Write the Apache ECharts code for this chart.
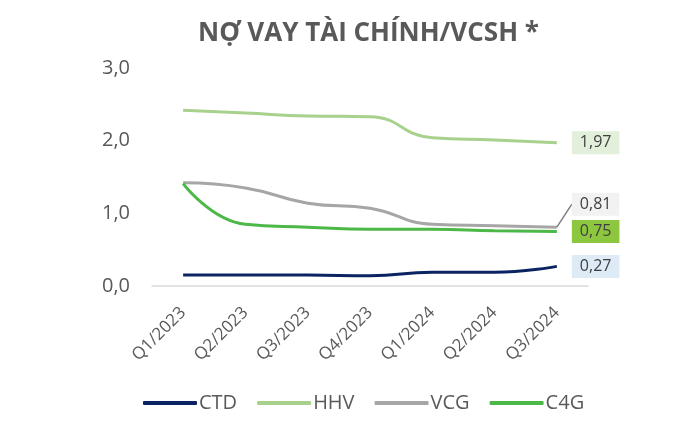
<!doctype html>
<html lang="vi">
<head>
<meta charset="UTF-8"/>
<title>Nợ vay tài chính/VCSH</title>
<script src="https://cdn.jsdelivr.net/npm/echarts@6/dist/echarts.min.js"></script>
<style>
  html, body { margin: 0; padding: 0; background: #fff; }
  #main { width: 686px; height: 440px; }
</style>
</head>
<body>
<div id="main"></div>
<script type="text/javascript">
// số liệu
var quarters = ['Q1/2023', 'Q2/2023', 'Q3/2023', 'Q4/2023', 'Q1/2024', 'Q2/2024', 'Q3/2024'];
var ctd = [0.15, 0.15, 0.15, 0.14, 0.19, 0.19, 0.27];
var hhv = [2.42, 2.38, 2.34, 2.33, 2.04, 2.01, 1.97];
var vcg = [1.42, 1.35, 1.14, 1.07, 0.85, 0.83, 0.81];
var c4g = [1.41, 0.85, 0.81, 0.78, 0.78, 0.76, 0.75];
var yTicks = [0, 1, 2, 3];

var myChart = echarts.init(document.getElementById('main'));

function fmt(v, d) {
  return v.toFixed(d).replace('.', ',');
}

// chỉ hiện nhãn ở điểm cuối
function withEndLabel(values, bg) {
  return values.map(function (v, i) {
    if (i !== values.length - 1) return v;
    return {
      value: v,
      label: {
        show: true,
        position: 'right',
        distance: 15,
        formatter: fmt(v, 2),
        backgroundColor: bg,
        color: '#404040',
        fontSize: 16,
        fontFamily: 'Open Sans',
        padding: [4, 8, 3, 8]
      }
    };
  });
}

function lineSeries(name, values, color, bg) {
  return {
    name: name,
    type: 'line',
    smooth: true,
    symbol: 'circle',
    symbolSize: 0,
    showSymbol: true,
    lineStyle: { color: color, width: 3 },
    itemStyle: { color: color },
    data: withEndLabel(values, bg),
    z: 3
  };
}

var series = [
  lineSeries('CTD', ctd, '#0b2461', '#deebf7'),
  lineSeries('HHV', hhv, '#a9d18e', '#e2efda'),
  lineSeries('VCG', vcg, '#a6a6a6', '#f2f2f2'),
  lineSeries('C4G', c4g, '#4cb848', '#8dc63f')
];
// nhãn VCG đẩy lên trên, có đường dẫn gấp khúc
series[2].labelLayout = { dy: -23 };
series[2].labelLine = { show: true, length2: 12, lineStyle: { color: '#7f7f7f', width: 1.5 } };

var option = {
  animation: false,
  title: {
    text: 'NỢ VAY TÀI CHÍNH/VCSH *',
    left: 193,
    top: 16,
    textStyle: {
      fontFamily: 'Open Sans',
      fontSize: 26,
      fontWeight: 'bold',
      color: '#595959'
    }
  },
  legend: {
    bottom: 22,
    left: 138,
    itemWidth: 54,
    itemHeight: 4,
    itemGap: 20,
    icon: 'roundRect',
    textStyle: { fontFamily: 'Open Sans', fontSize: 20, color: '#595959', padding: [0, 0, 0, -3] },
    data: ['CTD', 'HHV', 'VCG', 'C4G']
  },
  grid: {
    left: 152,
    right: 98,
    top: 68,
    bottom: 154
  },
  xAxis: {
    type: 'category',
    data: quarters,
    boundaryGap: true,
    axisLine: { lineStyle: { color: '#d9d9d9', width: 1.5 } },
    axisTick: { show: false },
    axisLabel: {
      rotate: 45,
      margin: 24,
      fontFamily: 'Open Sans',
      fontSize: 17,
      color: '#595959'
    }
  },
  yAxis: {
    type: 'value',
    min: yTicks[0],
    max: yTicks[yTicks.length - 1],
    interval: 1,
    splitLine: { show: false },
    axisLine: { show: false },
    axisTick: { show: false },
    axisLabel: {
      margin: 22,
      fontFamily: 'Open Sans',
      fontSize: 20,
      color: '#595959',
      formatter: function (v) { return fmt(v, 1); }
    }
  },
  series: series
};

myChart.setOption(option);
</script>
</body>
</html>
